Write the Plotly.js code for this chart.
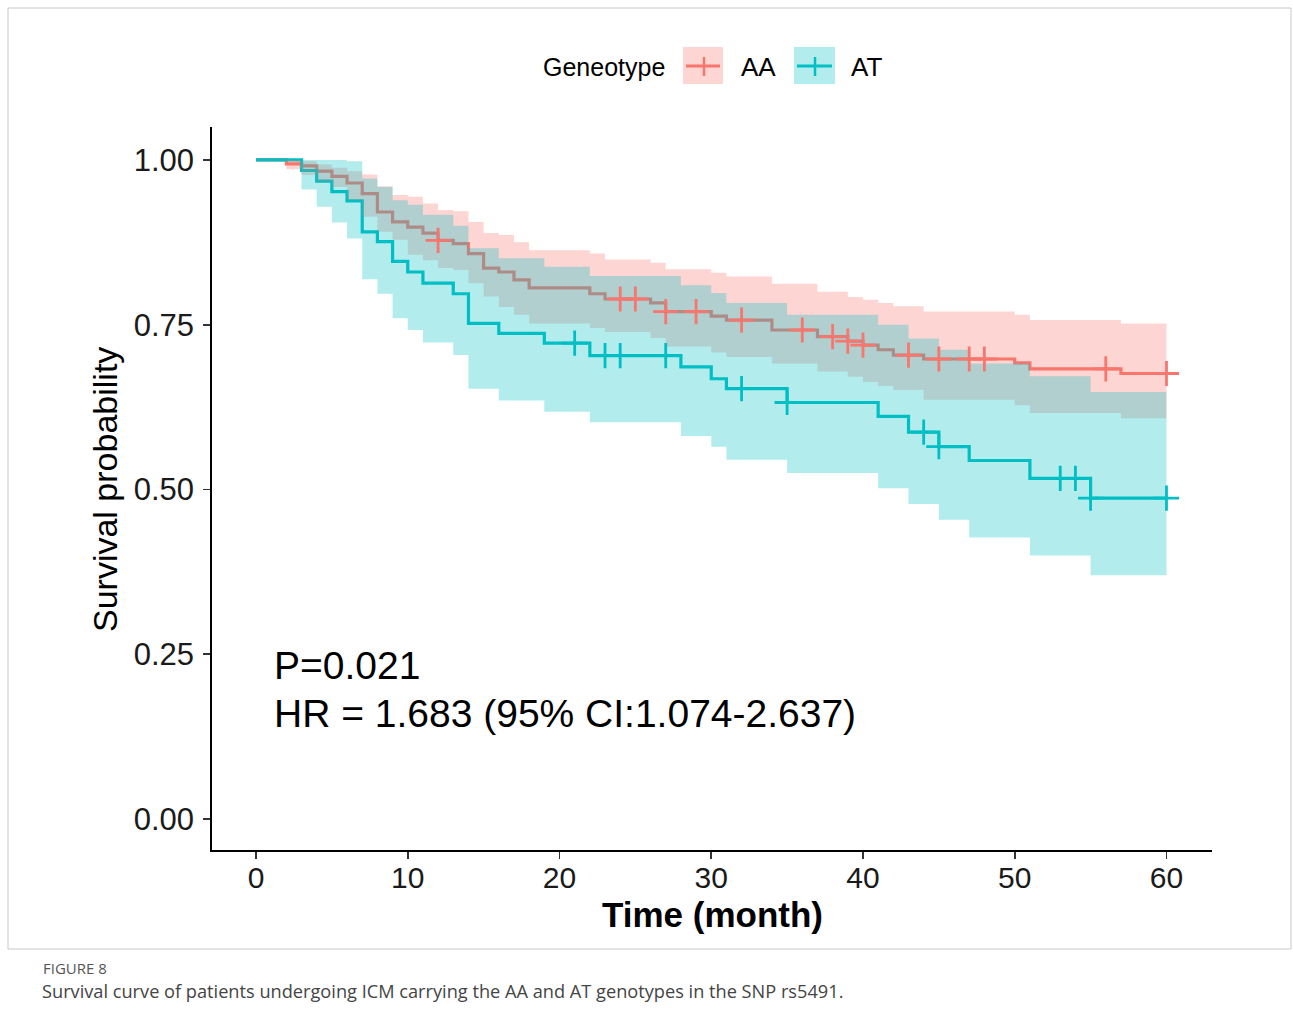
<!DOCTYPE html>
<html>
<head>
<meta charset="utf-8">
<script src="https://cdn.plot.ly/plotly-3.0.1.min.js"></script>
<style>
  html, body { margin: 0; padding: 0; background: #ffffff; }
  #chart { width: 1293px; height: 1025px; }
</style>
</head>
<body>
<div id="chart"></div>
<script>
// ---- Data (Kaplan-Meier steps, months) ----
const aaTime  = [0, 2, 3, 4, 5, 6, 7, 8, 9, 10, 11, 12, 13, 14, 15, 16, 17, 18, 22, 23, 26, 27, 30, 31, 34, 37, 39, 40, 41, 42, 44, 50, 51, 57, 60];
const aaSurv  = [1, 0.994, 0.991, 0.983, 0.975, 0.965, 0.949, 0.921, 0.906, 0.898, 0.889, 0.878, 0.873, 0.858, 0.836, 0.830, 0.818, 0.806, 0.797, 0.789, 0.783, 0.770, 0.763, 0.757, 0.742, 0.732, 0.725, 0.719, 0.712, 0.704, 0.698, 0.692, 0.683, 0.676, 0.676];
const aaUpper = [1, 1, 0.998, 0.993, 0.988, 0.983, 0.978, 0.960, 0.947, 0.944, 0.934, 0.924, 0.922, 0.906, 0.889, 0.886, 0.875, 0.863, 0.858, 0.849, 0.844, 0.834, 0.829, 0.823, 0.812, 0.800, 0.792, 0.788, 0.783, 0.778, 0.770, 0.765, 0.757, 0.752, 0.752];
const aaLower = [1, 0.986, 0.977, 0.967, 0.959, 0.939, 0.914, 0.891, 0.879, 0.856, 0.848, 0.836, 0.833, 0.813, 0.793, 0.777, 0.765, 0.752, 0.745, 0.739, 0.730, 0.717, 0.708, 0.701, 0.691, 0.679, 0.671, 0.663, 0.657, 0.651, 0.636, 0.628, 0.616, 0.608, 0.608];

const atTime  = [0, 3, 4, 5, 6, 7, 8, 9, 10, 11, 13, 14, 16, 19, 22, 28, 30, 31, 35, 41, 43, 45, 47, 51, 55, 60];
const atSurv  = [1, 0.984, 0.968, 0.952, 0.938, 0.891, 0.876, 0.846, 0.830, 0.813, 0.797, 0.752, 0.737, 0.722, 0.703, 0.686, 0.668, 0.653, 0.632, 0.611, 0.587, 0.565, 0.544, 0.517, 0.487, 0.487];
const atUpper = [1, 1, 1, 1, 0.998, 0.972, 0.959, 0.939, 0.932, 0.917, 0.900, 0.866, 0.851, 0.838, 0.824, 0.810, 0.798, 0.783, 0.765, 0.750, 0.729, 0.712, 0.691, 0.672, 0.648, 0.648];
const atLower = [1, 0.955, 0.929, 0.905, 0.881, 0.819, 0.797, 0.760, 0.742, 0.723, 0.704, 0.653, 0.635, 0.618, 0.602, 0.581, 0.565, 0.545, 0.525, 0.502, 0.478, 0.454, 0.427, 0.400, 0.370, 0.370];

const aaCensor = [12, 24, 25, 27, 29, 32, 36, 38, 39, 40, 43, 45, 47, 48, 56, 60];
const atCensor = [21, 23, 24, 27, 32, 35, 44, 45, 53, 54, 55, 60];

const xTicks = [0, 10, 20, 30, 40, 50, 60];
const yTicks = [0, 0.25, 0.5, 0.75, 1];
const yTickText = ['0.00', '0.25', '0.50', '0.75', '1.00'];

const groupNames = ['AA', 'AT'];
const legendTitle = 'Geneotype';
const pText = 'P=0.021';
const hrText = 'HR = 1.683 (95% CI:1.074-2.637)';
const xTitle = 'Time (month)';
const yTitle = 'Survival probability';
const figLabel = 'FIGURE 8';
const caption = 'Survival curve of patients undergoing ICM carrying the AA and AT genotypes in the SNP rs5491.';

// ---- styling ----
const RED = '#F8766D', TEAL = '#00BFC4';
const RED_FILL = 'rgba(248,118,109,0.3)', TEAL_FILL = 'rgba(0,191,196,0.3)';
const FONT = 'Liberation Sans, Arial, sans-serif';

// step lookup for censor marks
function stepAt(times, vals, t) {
  let v = vals[0];
  for (let i = 0; i < times.length; i++) { if (times[i] <= t) v = vals[i]; }
  return v;
}

const traces = [];
// curves (drawn first, like ggsurvplot)
traces.push({x: aaTime, y: aaSurv, type: 'scatter', mode: 'lines', line: {shape: 'hv', color: RED, width: 3.2}, name: 'AA', showlegend: false, hoverinfo: 'skip'});
traces.push({x: atTime, y: atSurv, type: 'scatter', mode: 'lines', line: {shape: 'hv', color: TEAL, width: 3.2}, name: 'AT', showlegend: false, hoverinfo: 'skip'});
// confidence bands
traces.push({x: aaTime, y: aaLower, type: 'scatter', mode: 'lines', line: {shape: 'hv', width: 0, color: 'rgba(0,0,0,0)'}, showlegend: false, hoverinfo: 'skip'});
traces.push({x: aaTime, y: aaUpper, type: 'scatter', mode: 'lines', fill: 'tonexty', fillcolor: RED_FILL, line: {shape: 'hv', width: 0, color: 'rgba(0,0,0,0)'}, showlegend: false, hoverinfo: 'skip'});
traces.push({x: atTime, y: atLower, type: 'scatter', mode: 'lines', line: {shape: 'hv', width: 0, color: 'rgba(0,0,0,0)'}, showlegend: false, hoverinfo: 'skip'});
traces.push({x: atTime, y: atUpper, type: 'scatter', mode: 'lines', fill: 'tonexty', fillcolor: TEAL_FILL, line: {shape: 'hv', width: 0, color: 'rgba(0,0,0,0)'}, showlegend: false, hoverinfo: 'skip'});
// censor marks
traces.push({x: aaCensor, y: aaCensor.map(t => stepAt(aaTime, aaSurv, t)), type: 'scatter', mode: 'markers',
  marker: {symbol: 'cross-thin', size: 18, color: RED, line: {color: RED, width: 2.8}}, showlegend: false, hoverinfo: 'skip'});
traces.push({x: atCensor, y: atCensor.map(t => stepAt(atTime, atSurv, t)), type: 'scatter', mode: 'markers',
  marker: {symbol: 'cross-thin', size: 18, color: TEAL, line: {color: TEAL, width: 2.8}}, showlegend: false, hoverinfo: 'skip'});

// pixel -> paper helpers (plot area: x 212..1212, y 127..850)
const L = 212, R = 1212, T = 127, B = 850;
const px = v => (v - L) / (R - L);
const py = v => (B - v) / (B - T);

const shapes = [
  // outer figure frame
  {type: 'rect', xref: 'paper', yref: 'paper', x0: px(8), x1: px(1291), y0: py(949), y1: py(8), line: {color: '#c8c8c8', width: 1}, fillcolor: 'rgba(0,0,0,0)', layer: 'below'},
  // legend keys
  {type: 'rect', xref: 'paper', yref: 'paper', x0: px(683), x1: px(723), y0: py(84), y1: py(47), line: {width: 0}, fillcolor: RED_FILL},
  {type: 'line', xref: 'paper', yref: 'paper', x0: px(686), x1: px(720), y0: py(66), y1: py(66), line: {color: RED, width: 3}},
  {type: 'line', xref: 'paper', yref: 'paper', x0: px(704), x1: px(704), y0: py(57), y1: py(76), line: {color: RED, width: 2.5}},
  {type: 'rect', xref: 'paper', yref: 'paper', x0: px(794), x1: px(835), y0: py(84), y1: py(47), line: {width: 0}, fillcolor: TEAL_FILL},
  {type: 'line', xref: 'paper', yref: 'paper', x0: px(797), x1: px(832), y0: py(66), y1: py(66), line: {color: TEAL, width: 3}},
  {type: 'line', xref: 'paper', yref: 'paper', x0: px(815), x1: px(815), y0: py(57), y1: py(76), line: {color: TEAL, width: 2.5}}
];

const annotations = [
  {xref: 'paper', yref: 'paper', x: px(667), y: py(67), xanchor: 'right', yanchor: 'middle', text: legendTitle, showarrow: false, font: {family: FONT, size: 25, color: '#000'}},
  {xref: 'paper', yref: 'paper', x: px(739), y: py(67), xanchor: 'left', yanchor: 'middle', text: groupNames[0], showarrow: false, font: {family: FONT, size: 26, color: '#000'}},
  {xref: 'paper', yref: 'paper', x: px(849), y: py(67), xanchor: 'left', yanchor: 'middle', text: groupNames[1], showarrow: false, font: {family: FONT, size: 26, color: '#000'}},
  {xref: 'paper', yref: 'paper', x: px(272), y: py(665), xanchor: 'left', yanchor: 'middle', text: pText, showarrow: false, font: {family: FONT, size: 39, color: '#000'}},
  {xref: 'paper', yref: 'paper', x: px(272), y: py(713), xanchor: 'left', yanchor: 'middle', text: hrText, showarrow: false, font: {family: FONT, size: 39, color: '#000'}},
  {xref: 'paper', yref: 'paper', x: px(712), y: py(915), xanchor: 'center', yanchor: 'middle', text: '<b>' + xTitle + '</b>', showarrow: false, font: {family: FONT, size: 35, color: '#000'}},
  {xref: 'paper', yref: 'paper', x: px(105), y: py(490), xanchor: 'center', yanchor: 'middle', textangle: -90, text: yTitle, showarrow: false, font: {family: FONT, size: 34, color: '#000'}},
  {xref: 'paper', yref: 'paper', x: px(41), y: py(968), xanchor: 'left', yanchor: 'middle', text: figLabel, showarrow: false, font: {family: 'Open Sans, sans-serif', size: 15, color: '#555'}},
  {xref: 'paper', yref: 'paper', x: px(40), y: py(991), xanchor: 'left', yanchor: 'middle', text: caption, showarrow: false, font: {family: 'Open Sans, sans-serif', size: 18.2, color: '#444'}}
];

const layout = {
  width: 1293, height: 1025,
  margin: {l: L, r: 1293 - R, t: T, b: 1025 - B, pad: 0},
  paper_bgcolor: '#ffffff', plot_bgcolor: '#ffffff',
  showlegend: false,
  xaxis: {
    range: [-2.9, 63.0], tickvals: xTicks, ticktext: xTicks.map(String),
    showgrid: false, zeroline: false, showline: true, linecolor: '#000', linewidth: 1.8,
    ticks: 'outside', ticklen: 7, tickwidth: 1.8, tickcolor: '#333',
    tickfont: {family: FONT, size: 30, color: '#1a1a1a'}, ticklabelstandoff: -7,
    title: {text: ''}, fixedrange: true
  },
  yaxis: {
    range: [-0.047, 1.05], tickvals: yTicks, ticktext: yTickText,
    showgrid: false, zeroline: false, showline: true, linecolor: '#000', linewidth: 1.8,
    ticks: 'outside', ticklen: 7, tickwidth: 1.8, tickcolor: '#333',
    tickfont: {family: FONT, size: 31, color: '#1a1a1a'}, ticklabelstandoff: 3,
    title: {text: ''}, fixedrange: true
  },
  shapes: shapes,
  annotations: annotations
};

Plotly.newPlot('chart', traces, layout, {displayModeBar: false, staticPlot: true});
</script>
</body>
</html>
